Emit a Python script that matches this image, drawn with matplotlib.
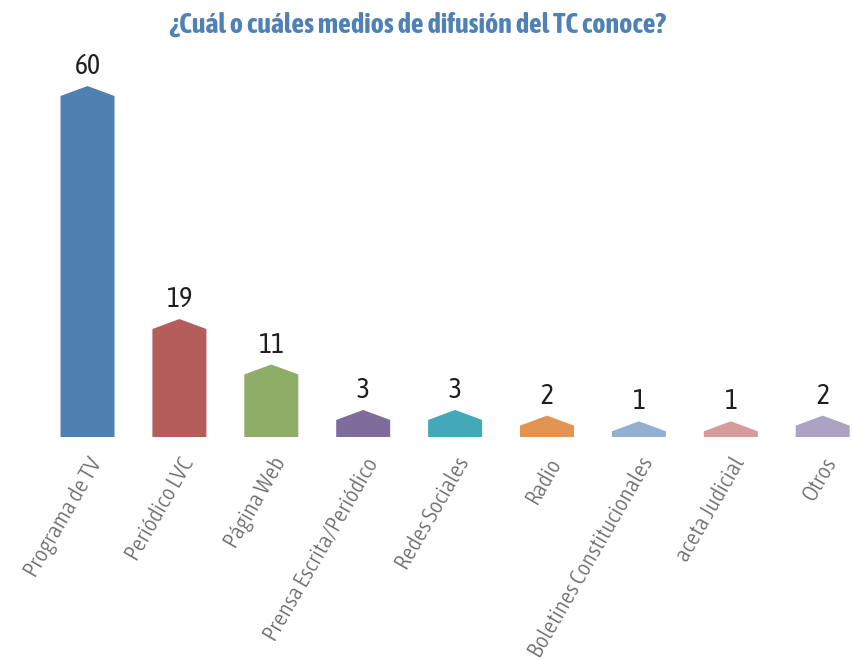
import matplotlib
matplotlib.use("Agg")
import matplotlib.pyplot as plt
from matplotlib.patches import Polygon

categories = ["Programa de TV", "Periódico LVC", "Página Web", "Prensa Escrita/Periódico",
              "Redes Sociales", "Radio", "Boletines Constitucionales", "aceta Judicial", "Otros"]
values = [60, 19, 11, 3, 3, 2, 1, 1, 2]
colors = ["#4E81B1", "#B45D5B", "#8FAD66", "#7F6C9D", "#42A9B9",
          "#E39452", "#93B0D3", "#D69B9B", "#ABA2C4"]
title = "¿Cuál o cuáles medios de difusión del TC conoce?"

FAM = ["Asap Condensed", "DejaVu Sans"]

W, H = 853, 661
fig = plt.figure(figsize=(W / 100, H / 100), dpi=100)
# axes: baseline at y=437px, top at 67px, spans full width
ax = fig.add_axes([0, (H - 437) / H, 1, 370 / H])
px_per_unit_x = 91.9
x0 = 87.5
ax.set_xlim(-x0 / px_per_unit_x, (W - x0) / px_per_unit_x)
px_per_unit_y = 5.683
ax.set_ylim(0, 370 / px_per_unit_y)

bar_w = 54 / px_per_unit_x
peak = 10 / px_per_unit_y
for i, (v, c) in enumerate(zip(values, colors)):
    l, r = i - bar_w / 2, i + bar_w / 2
    poly = Polygon([(l, 0), (l, v), (i, v + peak), (r, v), (r, 0)],
                   closed=True, facecolor=c, edgecolor="none")
    ax.add_patch(poly)
    ax.annotate(str(v), (i, v + peak), xytext=(0, 8.6), textcoords="offset points",
                ha="center", va="baseline", fontsize=20, color="#1F1F1F", family=FAM)

for s in ax.spines.values():
    s.set_visible(False)
ax.set_yticks([])
ax.set_xticks(range(len(categories)))
ax.set_xticklabels(categories, rotation=60, ha="right", rotation_mode="anchor",
                   fontsize=16.8, color="#6B6B6B", family=FAM, fontweight=300)
ax.tick_params(axis="x", length=0, pad=12)

fig.text(418 / W, 1 - 25 / H, title, ha="center", va="center", fontsize=20.2,
         fontweight="bold", color="#4F81B5", family=FAM)

fig.savefig("out.png", dpi=100)
